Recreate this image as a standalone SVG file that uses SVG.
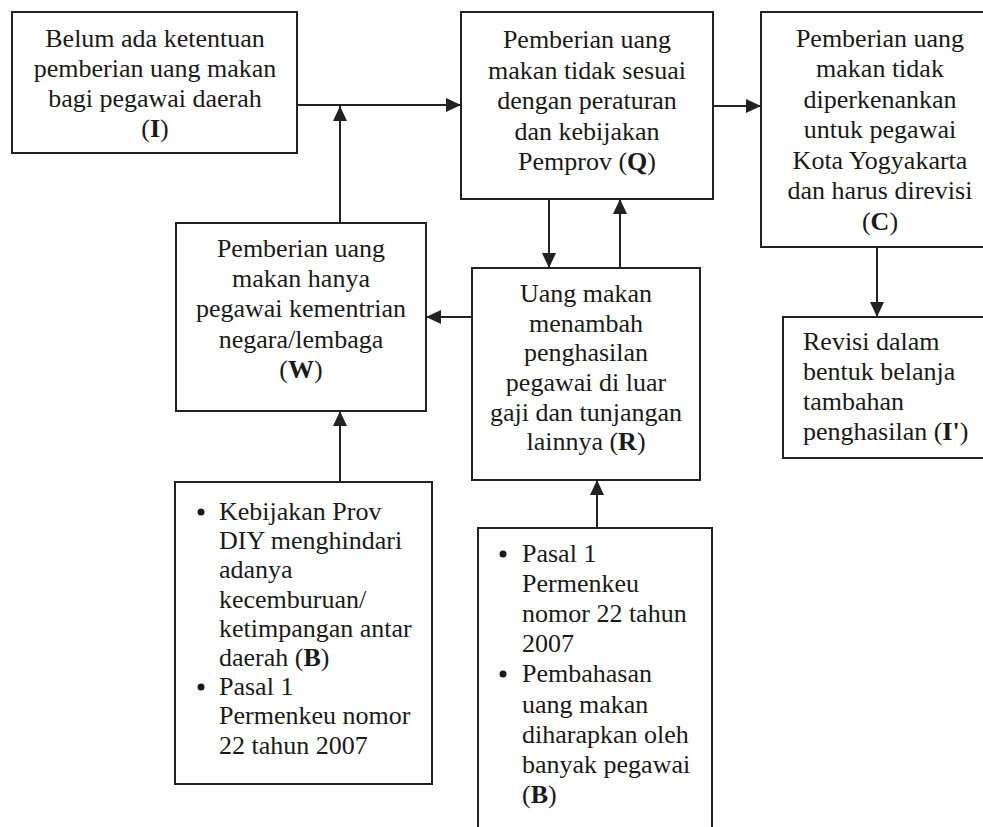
<svg xmlns="http://www.w3.org/2000/svg" width="983" height="827" viewBox="0 0 983 827">
<style>
.box{fill:#fff;stroke:#222;stroke-width:2}
.t{font-family:"Liberation Serif","Times New Roman",serif;font-size:26px;fill:#1a1a1a}
.c{text-anchor:middle}
.b{font-weight:bold}
.ln{stroke:#222;stroke-width:2;fill:none;marker-end:url(#ah)}
</style>
<defs>
<marker id="ah" markerUnits="userSpaceOnUse" markerWidth="15" markerHeight="14" refX="15" refY="7" orient="auto">
<path d="M0,0 L15,7 L0,14 z" fill="#222"/>
</marker>
</defs>
<rect width="983" height="827" fill="#fff"/>
<g id="connectors">
<line class="ln" x1="297" y1="105" x2="461" y2="105"/>
<line class="ln" x1="340" y1="223" x2="340" y2="106"/>
<line class="ln" x1="713" y1="106" x2="761" y2="106"/>
<line class="ln" x1="549" y1="199" x2="549" y2="268"/>
<line class="ln" x1="620" y1="268" x2="620" y2="199"/>
<line class="ln" x1="472" y1="317" x2="426" y2="317"/>
<line class="ln" x1="340" y1="482" x2="340" y2="411"/>
<line class="ln" x1="597" y1="528" x2="597" y2="480"/>
<line class="ln" x1="877" y1="247" x2="877" y2="317"/>
</g>
<g id="nodeI">
<rect class="box" x="12" y="12" width="285" height="141"/>
<text class="t c" x="155" y="47">Belum ada ketentuan</text>
<text class="t c" x="155" y="77">pemberian uang makan</text>
<text class="t c" x="155" y="107">bagi pegawai daerah</text>
<text class="t c" x="155" y="137">(<tspan class="b">I</tspan>)</text>
</g>
<g id="nodeQ">
<rect class="box" x="461" y="12" width="252" height="187"/>
<text class="t c" x="587" y="48">Pemberian uang</text>
<text class="t c" x="587" y="79">makan tidak sesuai</text>
<text class="t c" x="587" y="109">dengan peraturan</text>
<text class="t c" x="587" y="140">dan kebijakan</text>
<text class="t c" x="587" y="170">Pemprov (<tspan class="b">Q</tspan>)</text>
</g>
<g id="nodeC">
<rect class="box" x="761" y="12" width="240" height="235"/>
<text class="t c" x="880" y="47">Pemberian uang</text>
<text class="t c" x="880" y="77">makan tidak</text>
<text class="t c" x="880" y="108">diperkenankan</text>
<text class="t c" x="880" y="138">untuk pegawai</text>
<text class="t c" x="880" y="169">Kota Yogyakarta</text>
<text class="t c" x="880" y="199">dan harus direvisi</text>
<text class="t c" x="880" y="230">(<tspan class="b">C</tspan>)</text>
</g>
<g id="nodeW">
<rect class="box" x="176" y="223" width="250" height="188"/>
<text class="t c" x="301" y="257">Pemberian uang</text>
<text class="t c" x="301" y="287">makan hanya</text>
<text class="t c" x="301" y="317">pegawai kementrian</text>
<text class="t c" x="301" y="348">negara/lembaga</text>
<text class="t c" x="301" y="378">(<tspan class="b">W</tspan>)</text>
</g>
<g id="nodeR">
<rect class="box" x="472" y="268" width="228" height="212"/>
<text class="t c" x="586" y="302">Uang makan</text>
<text class="t c" x="586" y="332">menambah</text>
<text class="t c" x="586" y="361">penghasilan</text>
<text class="t c" x="586" y="391">pegawai di luar</text>
<text class="t c" x="586" y="421">gaji dan tunjangan</text>
<text class="t c" x="586" y="450">lainnya (<tspan class="b">R</tspan>)</text>
</g>
<g id="nodeI2">
<rect class="box" x="783" y="317" width="220" height="141"/>
<text class="t" x="803" y="350">Revisi dalam</text>
<text class="t" x="803" y="380">bentuk belanja</text>
<text class="t" x="803" y="410">tambahan</text>
<text class="t" x="803" y="440">penghasilan (<tspan class="b">I'</tspan>)</text>
</g>
<g id="nodeB1">
<rect class="box" x="175" y="482" width="257" height="302"/>
<circle cx="201" cy="512" r="3.5" fill="#1a1a1a"/>
<circle cx="201" cy="687" r="3.5" fill="#1a1a1a"/>
<text class="t" x="219" y="520">Kebijakan Prov</text>
<text class="t" x="219" y="549">DIY menghindari</text>
<text class="t" x="219" y="578">adanya</text>
<text class="t" x="219" y="608">kecemburuan/</text>
<text class="t" x="219" y="637">ketimpangan antar</text>
<text class="t" x="219" y="666">daerah (<tspan class="b">B</tspan>)</text>
<text class="t" x="219" y="695">Pasal 1</text>
<text class="t" x="219" y="724">Permenkeu nomor</text>
<text class="t" x="219" y="754">22 tahun 2007</text>
</g>
<g id="nodeB2">
<rect class="box" x="478" y="528" width="234" height="320"/>
<circle cx="503" cy="554" r="3.5" fill="#1a1a1a"/>
<circle cx="503" cy="674" r="3.5" fill="#1a1a1a"/>
<text class="t" x="522" y="562">Pasal 1</text>
<text class="t" x="522" y="592">Permenkeu</text>
<text class="t" x="522" y="622">nomor 22 tahun</text>
<text class="t" x="522" y="652">2007</text>
<text class="t" x="522" y="682">Pembahasan</text>
<text class="t" x="522" y="713">uang makan</text>
<text class="t" x="522" y="743">diharapkan oleh</text>
<text class="t" x="522" y="773">banyak pegawai</text>
<text class="t" x="522" y="803">(<tspan class="b">B</tspan>)</text>
</g>
</svg>
